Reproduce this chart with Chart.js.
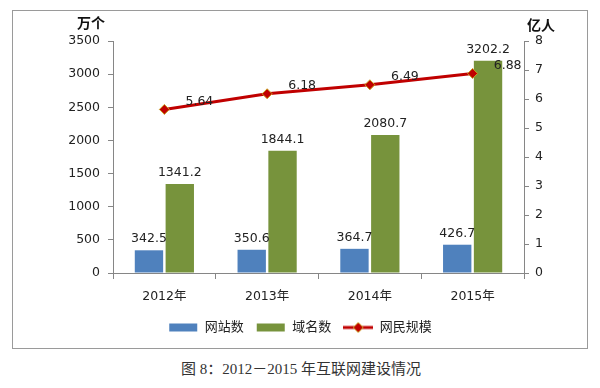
<!DOCTYPE html>
<html>
<head>
<meta charset="utf-8">
<script src="https://cdn.jsdelivr.net/npm/chart.js@4"></script>
<style>
  body { margin: 0; background: #fff; width: 600px; height: 388px; position: relative; overflow: hidden; }
  #box { position: absolute; left: 12px; top: 10px; width: 574px; height: 337px; border: 1px solid #9a9a9a; }
  #caption { position: absolute; left: 0; width: 602px; top: 357px; text-align: center;
    font: 15px "Liberation Serif", "Noto Sans CJK SC", serif; color: #333; }
</style>
</head>
<body>
<div id="box"><canvas id="chart" width="574" height="337"></canvas></div>
<div id="caption">图 8：2012－2015 年互联网建设情况</div>
<script>
const categories = ['2012年', '2013年', '2014年', '2015年']
const sites = [342.5, 350.6, 364.7, 426.7]      // 网站数 (万个)
const domains = [1341.2, 1844.1, 2080.7, 3202.2] // 域名数 (万个)
const netizens = [5.64, 6.18, 6.49, 6.88]        // 网民规模 (亿人)
const leftTicks = [0, 500, 1000, 1500, 2000, 2500, 3000, 3500]
const rightTicks = [0, 1, 2, 3, 4, 5, 6, 7, 8]

const FONT = '"DejaVu Sans", "Noto Sans CJK SC", sans-serif'
const BLUE = '#4f81bd'
const GREEN = '#77933c'
const RED = '#c00000'

// legend swatches drawn to small canvases
function swatch(kind, color) {
  const c = document.createElement('canvas')
  c.width = 30; c.height = 12
  const g = c.getContext('2d')
  if (kind === 'bar') {
    g.fillStyle = color
    g.fillRect(1, 2, 28, 8)
  } else {
    g.strokeStyle = color
    g.lineWidth = 3
    g.beginPath(); g.moveTo(0, 6); g.lineTo(30, 6); g.stroke()
    g.fillStyle = color
    g.strokeStyle = '#c8a020'
    g.lineWidth = 1
    g.beginPath()
    g.moveTo(15, 1); g.lineTo(20, 6); g.lineTo(15, 11); g.lineTo(10, 6); g.closePath()
    g.fill(); g.stroke()
  }
  return c
}

const labelPlugin = {
  id: 'labels',
  afterDatasetsDraw(chart) {
    const ctx = chart.ctx
    ctx.save()
    ctx.font = '12.5px ' + FONT
    ctx.fillStyle = '#222'
    ctx.textAlign = 'center'
    chart.data.datasets.forEach((ds, i) => {
      const meta = chart.getDatasetMeta(i)
      meta.data.forEach((el, j) => {
        if (ds.type === 'line') {
          ctx.textBaseline = 'middle'
          ctx.fillText(ds.data[j].toFixed(2), el.x + 35, el.y - 8)
        } else {
          ctx.textBaseline = 'bottom'
          ctx.fillText(ds.data[j].toFixed(1), el.x, el.y - 5)
        }
      })
    })
    // axis titles
    ctx.font = 'bold 14px ' + FONT
    ctx.textBaseline = 'middle'
    ctx.fillStyle = '#111'
    ctx.fillText('万个', 78, 13)
    ctx.fillText('亿人', 528, 15)
    ctx.restore()
  }
}

const order = ['网站数', '域名数', '网民规模']

new Chart(document.getElementById('chart'), {
  data: {
    labels: categories,
    datasets: [
      {
        type: 'line', label: '网民规模', data: netizens, yAxisID: 'y1',
        borderColor: RED, borderWidth: 3, backgroundColor: RED,
        pointStyle: 'rectRot', pointRadius: 5, pointBorderColor: '#c8a020', pointBorderWidth: 1,
        pointBackgroundColor: RED, tension: 0, order: 0
      },
      {
        type: 'bar', label: '网站数', data: sites, yAxisID: 'y', backgroundColor: BLUE,
        barPercentage: 0.92, categoryPercentage: 0.6, order: 1
      },
      {
        type: 'bar', label: '域名数', data: domains, yAxisID: 'y', backgroundColor: GREEN,
        barPercentage: 0.92, categoryPercentage: 0.6, order: 1
      }
    ]
  },
  options: {
    responsive: false,
    animation: false,
    layout: { padding: { top: 30, left: 0, right: 0, bottom: 4 } },
    plugins: {
      tooltip: { enabled: false },
      legend: {
        position: 'bottom',
        labels: {
          usePointStyle: true,
          pointStyleWidth: 30,
          padding: 12,
          color: '#222',
          font: { size: 13, family: FONT },
          sort: (a, b) => order.indexOf(a.text) - order.indexOf(b.text),
          generateLabels: (chart) => chart.data.datasets.map((ds, i) => ({
            text: ds.label,
            datasetIndex: i,
            fontColor: '#222',
            pointStyle: ds.type === 'line' ? swatch('line', RED) : swatch('bar', ds.backgroundColor),
            lineWidth: 0,
            strokeStyle: 'transparent',
            fillStyle: 'transparent'
          }))
        }
      }
    },
    scales: {
      x: {
        grid: { display: true, drawOnChartArea: false, drawTicks: true, tickLength: 6, color: '#868686', offset: true },
        border: { color: '#868686' },
        ticks: { color: '#222', font: { size: 12.5, family: FONT }, padding: 10 },
        afterFit: (s) => { s.height = 36 }
      },
      y: {
        position: 'left', min: 0, max: 3500,
        afterBuildTicks: (s) => { s.ticks = leftTicks.map(v => ({ value: v })) },
        grid: { display: true, drawOnChartArea: false, tickLength: 5, color: '#868686' },
        border: { color: '#868686' },
        ticks: { color: '#222', font: { size: 12.5, family: FONT }, padding: 8, callback: (v) => String(v) },
        afterFit: (s) => { s.width = 100 }
      },
      y1: {
        position: 'right', min: 0, max: 8,
        afterBuildTicks: (s) => { s.ticks = rightTicks.map(v => ({ value: v })) },
        grid: { display: true, drawOnChartArea: false, tickLength: 5, color: '#868686' },
        border: { color: '#868686' },
        ticks: { color: '#222', font: { size: 12.5, family: FONT }, padding: 6, callback: (v) => String(v) },
        afterFit: (s) => { s.width = 63 }
      }
    }
  },
  plugins: [labelPlugin]
})
</script>
</body>
</html>
